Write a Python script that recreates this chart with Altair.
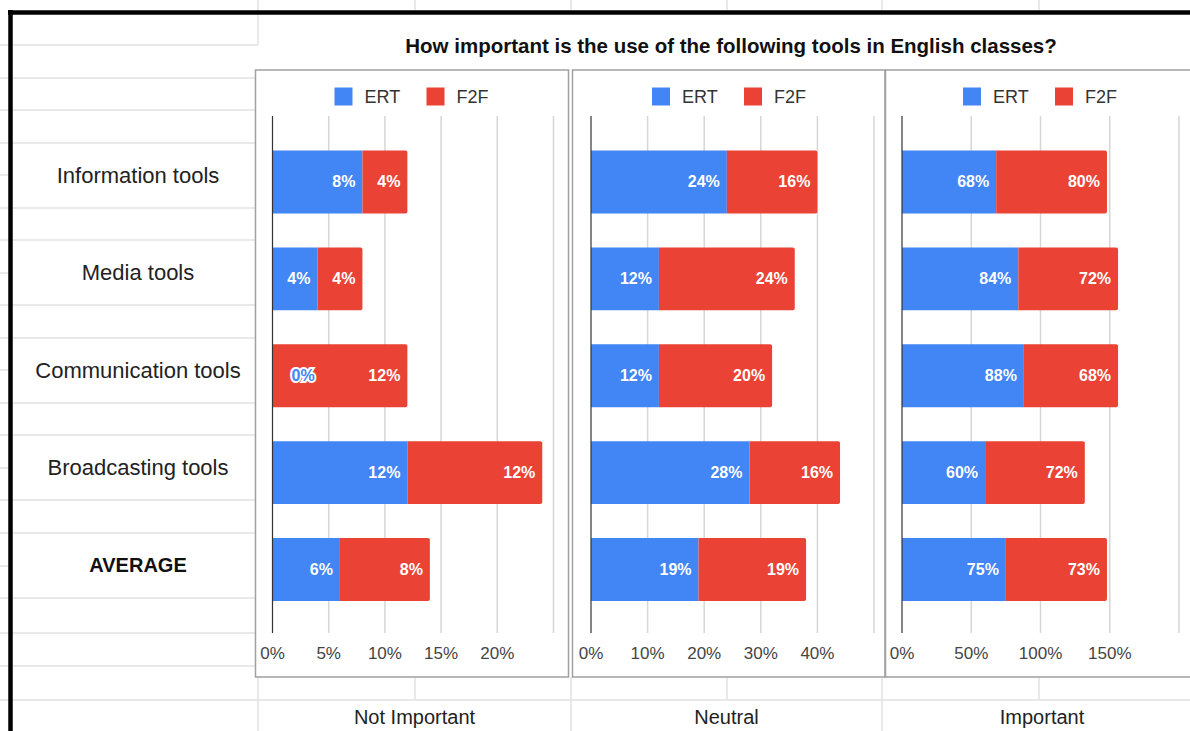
import altair as alt
import pandas as pd

# ---------------- data ----------------
categories = ["Information tools", "Media tools", "Communication tools",
              "Broadcasting tools", "AVERAGE"]
series = ["ERT", "F2F"]
groups = ["Not Important", "Neutral", "Important"]

ert_not = [8, 4, 0, 12, 6]
f2f_not = [4, 4, 12, 12, 8]
ert_neu = [24, 12, 12, 28, 19]
f2f_neu = [16, 24, 20, 16, 19]
ert_imp = [68, 84, 88, 60, 75]
f2f_imp = [80, 72, 68, 72, 73]

grid_not = [0, 5, 10, 15, 20, 25]
grid_neu = [0, 10, 20, 30, 40, 50]
grid_imp = [0, 50, 100, 150, 200]
ticklabels_not = ["0%", "5%", "10%", "15%", "20%"]
ticklabels_neu = ["0%", "10%", "20%", "30%", "40%"]
ticklabels_imp = ["0%", "50%", "100%", "150%"]

title_text = "How important is the use of the following tools in English classes?"

# ---------------- styling / layout ----------------
BLUE = "#4285F4"
RED = "#EA4335"
COLORS = [BLUE, RED]
FONT = "Arial, Liberation Sans, sans-serif"
SHEET = "#e2e2e2"

PANELS = [
    dict(range=[272.5, 553.5], box=[255.5, 568.5], legend=411.5, label=414.5),
    dict(range=[591, 874], box=[572.5, 885], legend=729, label=726.5),
    dict(range=[902, 1179], box=[885.5, 1198], legend=1040, label=1042),
]
Y_RANGE = [116.6, 634.9]
AXIS_TOP, AXIS_BOTTOM = 116, 633
TICK_Y = 654
BOX_TOP, BOX_BOTTOM = 70, 677
LEGEND_Y = 96.5

ONE = alt.Data(values=[{}])


def panel(ert, f2f, grid, ticklabels, group, lay):
    layers = []
    # box
    layers.append(
        alt.Chart(ONE).mark_rect(fill="white", stroke="#a0a0a0", strokeWidth=1.5).encode(
            x=alt.value(lay["box"][0]), x2=alt.value(lay["box"][1]),
            y=alt.value(BOX_TOP), y2=alt.value(BOX_BOTTOM)))
    xs = alt.Scale(domain=[grid[0], grid[-1]], range=lay["range"], nice=False, zero=True)
    ys = alt.Scale(type="band", domain=categories, range=Y_RANGE,
                   paddingInner=0.35, paddingOuter=0.35)
    Y = alt.Y("category:N", scale=ys, axis=None, sort=categories)

    gdf = pd.DataFrame({"v": grid})
    layers.append(
        alt.Chart(gdf).transform_filter("datum.v > 0").mark_rule(color="#d6d6d6", strokeWidth=1.5).encode(
            x=alt.X("v:Q", scale=xs, axis=None),
            y=alt.value(AXIS_TOP), y2=alt.value(AXIS_BOTTOM)))
    tdf = pd.DataFrame({"v": grid[:len(ticklabels)], "lab": ticklabels})
    layers.append(
        alt.Chart(tdf).mark_text(font=FONT, fontSize=17, color="#444444",
                                 align="center", baseline="middle").encode(
            x=alt.X("v:Q", scale=xs, axis=None), y=alt.value(TICK_Y), text="lab:N"))

    df = pd.DataFrame({"category": categories, "ERT": ert, "F2F": f2f})
    df["total"] = df["ERT"] + df["F2F"]
    df["ERT_label"] = [f"{v}%" for v in ert]
    df["F2F_label"] = [f"{v}%" for v in f2f]
    base = alt.Chart(df)
    layers.append(base.mark_bar(color=BLUE).encode(
        x=alt.X("ERT:Q", scale=xs, axis=None), y=Y))
    layers.append(base.mark_bar(color=RED, cornerRadiusTopRight=2, cornerRadiusBottomRight=2).encode(
        x=alt.X("ERT:Q", scale=xs, axis=None), x2="total:Q", y=Y))
    # zero axis line
    layers.append(
        alt.Chart(gdf).transform_filter("datum.v == 0").mark_rule(color="#333333", strokeWidth=1.2).encode(
            x=alt.X("v:Q", scale=xs, axis=None),
            y=alt.value(AXIS_TOP), y2=alt.value(AXIS_BOTTOM)))
    lab = dict(font=FONT, fontSize=16, fontWeight="bold", baseline="middle")
    layers.append(base.transform_filter("datum.ERT > 0").mark_text(
        align="right", dx=-7, color="white", **lab).encode(
        x=alt.X("ERT:Q", scale=xs, axis=None), y=Y, text="ERT_label:N"))
    layers.append(base.transform_filter("datum.ERT == 0").mark_text(
        align="left", dx=19, color="white", stroke="white", strokeWidth=4, **lab).encode(
        x=alt.X("ERT:Q", scale=xs, axis=None), y=Y, text="ERT_label:N"))
    layers.append(base.transform_filter("datum.ERT == 0").mark_text(
        align="left", dx=19, color=BLUE, **lab).encode(
        x=alt.X("ERT:Q", scale=xs, axis=None), y=Y, text="ERT_label:N"))
    layers.append(base.transform_filter("datum.F2F > 0").mark_text(
        align="right", dx=-7, color="white", **lab).encode(
        x=alt.X("total:Q", scale=xs, axis=None), y=Y, text="F2F_label:N"))

    # legend
    sw_off = [-68, 24]
    tx_off = [-47, 45]
    for i, s in enumerate(series):
        layers.append(alt.Chart(ONE).mark_point(shape="square", filled=True, size=324,
                                                 color=COLORS[i], opacity=1).encode(
            x=alt.value(lay["legend"] + sw_off[i]), y=alt.value(LEGEND_Y)))
        layers.append(alt.Chart(ONE).mark_text(text=s, font=FONT, fontSize=18, color="#333333",
                                                align="left", baseline="middle").encode(
            x=alt.value(lay["legend"] + tx_off[i]), y=alt.value(LEGEND_Y + 1)))
    # bottom group label (sheet cell)
    layers.append(alt.Chart(ONE).mark_text(text=group, font=FONT, fontSize=20, color="#222222",
                                            align="center", baseline="middle").encode(
        x=alt.value(lay["label"]), y=alt.value(718)))
    return layers


# ---------------- spreadsheet decoration ----------------
lines = []
for yv in [45, 78, 110, 143, 208, 240, 305, 338, 403, 435, 500, 533, 598, 633, 666]:
    lines.append(dict(x=12, x2=258, y=yv, y2=yv))
for yv in [45, 78, 110, 143, 175, 208, 240, 273, 305, 338, 370, 403, 435, 468, 500,
           533, 566, 598, 633, 666, 700]:
    lines.append(dict(x=0, x2=8, y=yv, y2=yv))
lines.append(dict(x=12, x2=1190, y=700, y2=700))
for xv in [415, 571, 727, 882, 1039]:
    lines.append(dict(x=xv, x2=xv, y=0, y2=10))
lines.append(dict(x=258, x2=258, y=0, y2=45))
for xv in [258, 571, 882]:
    lines.append(dict(x=xv, x2=xv, y=677, y2=731))
for xv in [415, 727, 1039]:
    lines.append(dict(x=xv, x2=xv, y=677, y2=700))
sheet_lines = alt.Chart(pd.DataFrame(lines)).mark_rule(color=SHEET, strokeWidth=1.5).encode(
    x=alt.X("x:Q", scale=None, axis=None), x2="x2:Q",
    y=alt.Y("y:Q", scale=None, axis=None), y2="y2:Q")

border = [dict(x=10.5, x2=10.5, y=10, y2=731), dict(x=8, x2=1190, y=12.5, y2=12.5)]
border_lines = alt.Chart(pd.DataFrame(border)).mark_rule(color="black", strokeWidth=4.5).encode(
    x=alt.X("x:Q", scale=None, axis=None), x2="x2:Q",
    y=alt.Y("y:Q", scale=None, axis=None), y2="y2:Q")

row_scale = alt.Scale(type="point", domain=categories, range=[175.5, 565.5], padding=0)
rows = alt.Chart(pd.DataFrame({"category": categories}))
row_labels = rows.transform_filter("datum.category != 'AVERAGE'").mark_text(
    font=FONT, fontSize=22, color="#222222", align="center", baseline="middle").encode(
    x=alt.value(138), y=alt.Y("category:N", scale=row_scale, axis=None), text="category:N")
row_avg = rows.transform_filter("datum.category == 'AVERAGE'").mark_text(
    font=FONT, fontSize=20, fontWeight="bold", color="#111111", align="center", baseline="middle").encode(
    x=alt.value(138), y=alt.Y("category:N", scale=row_scale, axis=None), text="category:N")

title = alt.Chart(ONE).mark_text(text=title_text, font=FONT, fontSize=20.5, fontWeight="bold",
                                 color="#111111", align="center", baseline="middle").encode(
    x=alt.value(731), y=alt.value(47))

layers = [sheet_lines, border_lines, row_labels, row_avg, title]
layers += panel(ert_not, f2f_not, grid_not, ticklabels_not, groups[0], PANELS[0])
layers += panel(ert_neu, f2f_neu, grid_neu, ticklabels_neu, groups[1], PANELS[1])
layers += panel(ert_imp, f2f_imp, grid_imp, ticklabels_imp, groups[2], PANELS[2])

chart = alt.layer(*layers).resolve_scale(x="independent", y="independent").properties(
    width=1190, height=731, autosize="none", padding=0,
    background="white").configure_view(stroke=None)

chart.save("out.html", embed_options={"renderer": "svg", "actions": False})
